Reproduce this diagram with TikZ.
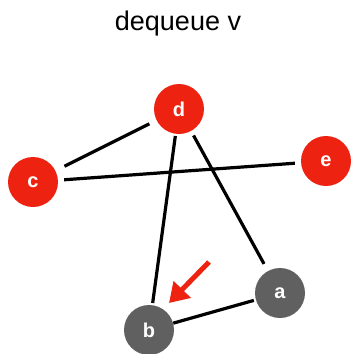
\documentclass[tikz,border=0pt]{standalone}
\usepackage{fontspec}
\setmainfont{Liberation Sans}
\usetikzlibrary{arrows.meta}
\definecolor{vred}{HTML}{EE2211}
\definecolor{vgray}{HTML}{606060}
\tikzset{
  vert/.style={circle, minimum size=50pt, inner sep=0pt, text=white, font=\fontsize{20}{22}\selectfont\bfseries},
  redv/.style={vert, fill=vred},
  grayv/.style={vert, fill=vgray},
  edge/.style={line width=3.2pt, black},
  pointer/.style={line width=5pt, vred, -{Triangle[length=19pt,width=23pt]}}
}
\begin{document}
\begin{tikzpicture}[x=1pt,y=-1pt]
\useasboundingbox (0,0) rectangle (352,354);
\node[font=\fontsize{27}{30}\selectfont] (title) at (178,24) {dequeue v};
\node[redv] (d) at (179,109) {d};
\node[redv] (c) at (33,182) {c};
\node[redv] (e) at (326,161) {e};
\node[grayv] (a) at (280,293) {a};
\node[grayv] (b) at (149,330) {b};
\draw[edge, shorten <=10pt, shorten >=8pt] (c) -- (d);
\draw[edge, shorten <=6pt, shorten >=6pt] (c) -- (e);
\draw[edge, shorten <=2pt, shorten >=2pt] (d) -- (b);
\draw[edge, shorten <=5pt, shorten >=8pt] (d) -- (a);
\draw[edge, shorten <=0pt, shorten >=2pt] (b) -- (a);
\coordinate (tail) at (209,262);
\coordinate (tip) at (169,303);
\draw[pointer] (tail) -- (tip);
\end{tikzpicture}
\end{document}
